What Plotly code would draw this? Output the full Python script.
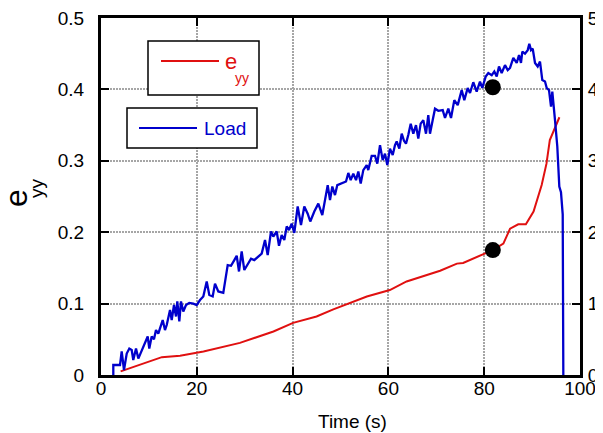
import plotly.graph_objects as go

# ---- data ----
eyy_time = [4.1, 12.7, 16.5, 21.4, 29.0, 36.0, 40.1, 45.0, 48.5, 55.5, 60.3, 63.8,
            70.8, 74.3, 75.6, 79.8, 81.8, 84.0, 85.4, 87.1, 88.7, 90.3, 92.0, 93.0,
            93.7, 95.7]
eyy_vals = [0.005, 0.025, 0.027, 0.033, 0.045, 0.061, 0.073, 0.082, 0.092, 0.110, 0.119, 0.131,
            0.146, 0.156, 0.157, 0.169, 0.175, 0.184, 0.205, 0.211, 0.211, 0.229, 0.266, 0.296,
            0.329, 0.361]

load_time = [2.57, 2.57, 3.97, 4.32, 4.80, 5.37, 5.91, 6.41, 6.74, 7.31, 7.79, 8.50, 9.19, 9.75,
             10.08, 10.58, 11.06, 11.48, 11.96, 12.32, 12.88, 13.36, 13.72, 14.41, 14.76,
             15.24, 15.66, 15.93, 16.35, 16.70, 17.18, 17.75, 18.43, 19.27, 19.98, 20.67,
             21.36, 22.07, 22.61, 23.32, 23.80, 24.49, 25.53, 26.45, 27.14, 27.83, 28.33,
             28.81, 29.37, 29.92, 30.75, 31.32, 32.00, 32.84, 33.55, 34.24, 34.80, 35.49,
             35.97, 36.68, 37.16, 37.72, 38.27, 38.77, 39.25, 39.81, 40.36, 41.06, 41.75,
             42.44, 43.15, 43.69, 44.53, 45.37, 46.20, 47.33, 47.81, 48.29, 48.85, 49.33,
             50.25, 51.15, 51.63, 52.13, 52.67, 53.24, 53.72, 54.22, 54.76, 55.47, 55.80,
             56.51, 57.20, 57.68, 58.25, 58.81, 59.29, 59.77, 60.33, 60.90, 61.38, 61.73,
             62.28, 62.78, 63.26, 63.67, 64.15, 64.66, 65.20, 65.76, 66.24, 66.74, 67.29,
             67.85, 68.33, 68.68, 69.25, 69.73, 70.42, 71.34, 71.82, 72.51, 73.07, 73.76,
             74.47, 75.30, 75.85, 76.55, 77.04, 77.72, 78.43, 79.12, 79.60, 80.31, 80.86,
             81.57, 82.11, 82.61, 83.09, 83.65, 84.34, 84.91, 85.39, 86.08, 86.78, 87.27,
             87.68, 87.96, 88.52, 89.08, 89.42, 89.77, 90.13, 90.61, 91.17, 91.65, 92.13,
             92.69, 93.05, 93.53, 93.95, 94.22, 94.78, 95.26, 95.68, 96.03, 96.39, 96.52]
load_vals = [0.0, 0.14, 0.14, 0.33, 0.07, 0.30, 0.37, 0.35, 0.21, 0.37, 0.23, 0.35, 0.47, 0.54,
             0.37, 0.54, 0.50, 0.63, 0.58, 0.65, 0.77, 0.63, 0.70, 0.91, 0.77,
             0.98, 0.82, 1.03, 0.75, 1.03, 0.89, 0.98, 1.01, 1.00, 0.98, 1.05,
             1.10, 1.31, 1.12, 1.10, 1.28, 1.17, 1.15, 1.54, 1.53, 1.61, 1.67,
             1.45, 1.73, 1.47, 1.56, 1.63, 1.61, 1.66, 1.70, 1.89, 1.68, 2.01,
             1.94, 2.01, 1.81, 1.96, 1.89, 2.08, 2.03, 2.12, 1.99, 2.36, 2.10,
             2.36, 2.26, 2.15, 2.29, 2.40, 2.24, 2.66, 2.45, 2.64, 2.52, 2.66,
             2.69, 2.71, 2.83, 2.73, 2.82, 2.73, 2.85, 2.68, 2.87, 2.94, 2.87,
             3.07, 3.07, 2.96, 3.22, 3.01, 3.10, 2.94, 3.17, 3.08, 3.22, 3.27,
             3.17, 3.38, 3.28, 3.24, 3.36, 3.52, 3.38, 3.50, 3.31, 3.52, 3.57,
             3.38, 3.64, 3.38, 3.57, 3.73, 3.70, 3.71, 3.60, 3.73, 3.60, 3.85,
             3.78, 3.99, 3.85, 4.02, 3.95, 4.10, 3.97, 4.11, 4.02, 4.18, 4.23,
             4.20, 4.25, 4.18, 4.32, 4.23, 4.34, 4.27, 4.30, 4.44, 4.37, 4.48,
             4.37, 4.53, 4.50, 4.55, 4.64, 4.55, 4.57, 4.37, 4.32, 4.39, 4.13,
             4.11, 4.02, 3.99, 3.76, 3.97, 3.57, 3.20, 2.64, 2.56, 2.25, 0.0]

mark_time = [81.8]
mark_eyy = [0.175]
mark_load = [4.03]

x_ticks = [0, 20, 40, 60, 80, 100]
y_ticks = [0, 0.1, 0.2, 0.3, 0.4, 0.5]
y2_ticks = [0, 1, 2, 3, 4, 5]

FONT = "Arial, Liberation Sans, sans-serif"
RED = "#e01010"
BLUE = "#0000cc"

fig = go.Figure()
fig.add_trace(go.Scatter(x=eyy_time, y=eyy_vals, mode="lines",
                         line=dict(color=RED, width=2), name="e_yy", showlegend=False))
fig.add_trace(go.Scatter(x=load_time, y=load_vals, mode="lines", yaxis="y2",
                         line=dict(color=BLUE, width=2.3), name="Load", showlegend=False))
fig.add_trace(go.Scatter(x=mark_time, y=mark_eyy, mode="markers",
                         marker=dict(color="black", size=16), showlegend=False))
fig.add_trace(go.Scatter(x=mark_time, y=mark_load, mode="markers", yaxis="y2",
                         marker=dict(color="black", size=16), showlegend=False))

axis_common = dict(
    showline=True, linecolor="black", linewidth=3,
    ticks="inside", ticklen=8, tickwidth=2, tickcolor="black",
    showgrid=True, gridcolor="#a6a6a6", gridwidth=2, griddash="2px,1px",
    zeroline=False, automargin=False, ticklabeloverflow="allow",
    tickfont=dict(family=FONT, size=19, color="black"),
)

# page body adds an 8px offset; compensate so the plot lands where the reference has it
OFF = 8
fig.update_layout(
    width=603 - OFF, height=433 - OFF,
    margin=dict(l=101 - OFF, r=23, t=18 - OFF, b=58, autoexpand=False),
    paper_bgcolor="white", plot_bgcolor="white",
    showlegend=False,
    xaxis=dict(range=[0, 100], tickvals=x_ticks, ticktext=[str(v) for v in x_ticks],
               mirror="ticks", ticklabelstandoff=-6, **axis_common),
    yaxis=dict(range=[0, 0.5], tickvals=y_ticks, ticktext=["0", "0.1", "0.2", "0.3", "0.4", "0.5"],
               ticklabelstandoff=10, **axis_common),
    yaxis2=dict(range=[0, 5], tickvals=y2_ticks, ticktext=[str(v) for v in y2_ticks],
                overlaying="y", side="right", ticklabelstandoff=1,
                **{**axis_common, "showgrid": False}),
)

def px2paper(px, py):
    return (px - 101) / 479.0, (375 - py) / 357.0

shapes = []
# legend boxes
for (x0, y0, x1, y1) in [(148, 41, 259, 95), (127, 108, 257, 148)]:
    a0, b0 = px2paper(x0, y1)
    a1, b1 = px2paper(x1, y0)
    shapes.append(dict(type="rect", xref="paper", yref="paper", x0=a0, y0=b0, x1=a1, y1=b1,
                       line=dict(color="black", width=1.5), fillcolor="white", layer="above"))
for (x0, x1, y, c) in [(161, 219, 61, RED), (139, 197, 128, BLUE)]:
    a0, b = px2paper(x0, y)
    a1, _ = px2paper(x1, y)
    shapes.append(dict(type="line", xref="paper", yref="paper", x0=a0, x1=a1, y0=b, y1=b,
                       line=dict(color=c, width=2), layer="above"))
fig.update_layout(shapes=shapes)

def ann(text, px, py, size, color="black", angle=0):
    ax, ay = px2paper(px, py)
    return dict(text=text, x=ax, y=ay, xref="paper", yref="paper", showarrow=False,
                xanchor="center", yanchor="middle", textangle=angle,
                font=dict(family=FONT, size=size, color=color))

fig.update_layout(annotations=[
    ann("e", 230.5, 61, 22, RED),
    ann("yy", 242, 78, 14, RED),
    ann("Load", 225, 128, 19, BLUE),
    ann("Time (s)", 352, 421, 19),
    ann("e", 16, 198, 32, angle=-90),
    ann("yy", 36, 188, 19, angle=-90),
])

fig.write_html("out.html")
